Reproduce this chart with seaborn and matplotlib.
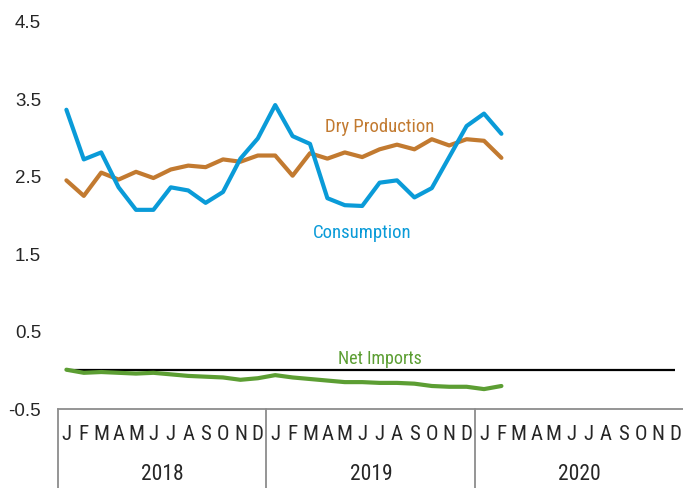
import matplotlib
matplotlib.use("Agg")
import matplotlib.pyplot as plt
import matplotlib.transforms as mtransforms
import pandas as pd
import seaborn as sns

# monthly values, Jan 2018 - Feb 2020
consumption = [3.35, 2.71, 2.80, 2.35, 2.06, 2.06, 2.35, 2.31, 2.15, 2.29, 2.72, 2.98, 3.41,
               3.01, 2.91, 2.21, 2.12, 2.11, 2.41, 2.44, 2.22, 2.34, 2.74, 3.14, 3.30, 3.04]
dry_production = [2.44, 2.24, 2.54, 2.45, 2.55, 2.47, 2.58, 2.63, 2.61, 2.71, 2.68, 2.76, 2.76,
                  2.50, 2.79, 2.72, 2.80, 2.74, 2.84, 2.90, 2.84, 2.97, 2.89, 2.97, 2.95, 2.73]
net_imports = [0.0, -0.04, -0.03, -0.04, -0.05, -0.04, -0.06, -0.08, -0.09, -0.10, -0.13, -0.11, -0.07,
               -0.10, -0.12, -0.14, -0.16, -0.16, -0.17, -0.17, -0.18, -0.21, -0.22, -0.22, -0.25, -0.21]
month_letters = list("JFMAMJJASOND") * 3
years = ["2018", "2019", "2020"]
yticks = [-0.5, 0.5, 1.5, 2.5, 3.5, 4.5]

c_blue = "#0A9BD8"
c_brown = "#C27A30"
c_green = "#5C9E33"

n = len(consumption)
df = pd.DataFrame({"month": list(range(n)), "Consumption": consumption,
                   "Dry Production": dry_production, "Net Imports": net_imports})

sns.set_style("white")
plt.rcParams["font.family"] = ["Liberation Sans", "DejaVu Sans"]
narrow = ["Roboto Condensed", "Liberation Sans", "DejaVu Sans"]

fig = plt.figure(figsize=(6.83, 4.89), dpi=100)
ax = fig.add_axes([57.7 / 683, 79.5 / 489, 626.4 / 683, 388 / 489])

sns.lineplot(data=df, x="month", y="Dry Production", color=c_brown, lw=3.0, ax=ax)
sns.lineplot(data=df, x="month", y="Consumption", color=c_blue, lw=3.0, ax=ax)
ax.hlines(0, 0, len(month_letters) - 1, color="black", lw=1.6, zorder=1)
sns.lineplot(data=df, x="month", y="Net Imports", color=c_green, lw=3.0, ax=ax, zorder=3)

ax.set_xlim(-0.5, len(month_letters) - 0.5)
ax.set_ylim(-0.5, 4.5)
ax.set_xlabel("")
ax.set_ylabel("")

ax.set_yticks(yticks)
ax.set_yticklabels([f"{v:.1f}" for v in yticks], fontsize=13.5)
ax.tick_params(axis="y", length=0, pad=12)

ax.set_xticks(range(len(month_letters)))
ax.set_xticklabels(month_letters, fontsize=15, family=narrow)
ax.tick_params(axis="x", direction="in", length=4, width=1, color="#8c8c8c", pad=11)

for s in ["top", "right", "left"]:
    ax.spines[s].set_visible(False)
ax.spines["bottom"].set_color("#8c8c8c")
ax.spines["bottom"].set_linewidth(1.3)

# year boxes under the months
trans = mtransforms.blended_transform_factory(ax.transData, ax.transAxes)
for k in range(len(years) + 1):
    ax.plot([k * 12 - 0.5] * 2, [0, -0.21], transform=trans, color="#8c8c8c",
            lw=1.3, clip_on=False)
for k, yr in enumerate(years):
    ax.text(k * 12 + 5.5, -0.167, yr, transform=trans, ha="center", va="center",
            fontsize=15.5, family=narrow)

ax.text(18.0, 3.14, "Dry Production", color=c_brown, fontsize=13.5, ha="center", va="center", family=narrow)
ax.text(17.0, 1.77, "Consumption", color=c_blue, fontsize=13.5, ha="center", va="center", family=narrow)
ax.text(18.0, 0.147, "Net Imports", color=c_green, fontsize=13, ha="center", va="center", family=narrow)

fig.savefig("out.png", dpi=100)
